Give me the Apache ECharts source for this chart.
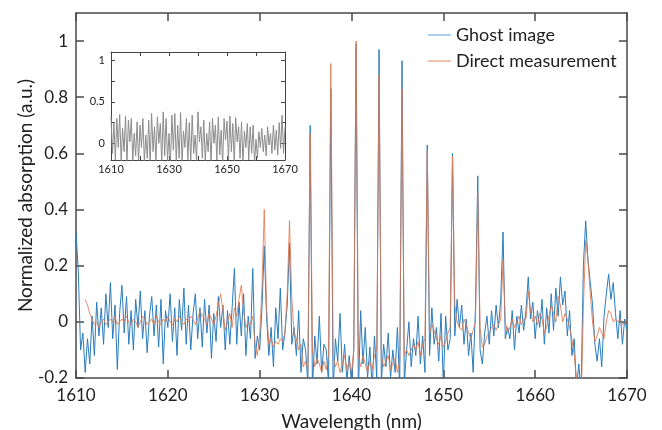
<!DOCTYPE html>
<html>
<head>
<meta charset="utf-8">
<script src="https://cdn.jsdelivr.net/npm/echarts@6/dist/echarts.min.js"></script>
<style>
html,body{margin:0;padding:0;background:#fff;}
#chart{width:662px;height:430px;}
</style>
</head>
<body>
<div id="chart"></div>
<script>
// Wavelength grid (nm) of the main plot
const wavelength = [
1610,1610.25,1610.5,1610.75, 1611,1611.25,1611.5,1611.75, 1612,1612.25,1612.5,1612.75,
1613,1613.25,1613.5,1613.75, 1614,1614.25,1614.5,1614.75, 1615,1615.25,1615.5,1615.75,
1616,1616.25,1616.5,1616.75, 1617,1617.25,1617.5,1617.75, 1618,1618.25,1618.5,1618.75,
1619,1619.25,1619.5,1619.75, 1620,1620.25,1620.5,1620.75, 1621,1621.25,1621.5,1621.75,
1622,1622.25,1622.5,1622.75, 1623,1623.25,1623.5,1623.75, 1624,1624.25,1624.5,1624.75,
1625,1625.25,1625.5,1625.75, 1626,1626.25,1626.5,1626.75, 1627,1627.25,1627.5,1627.75,
1628,1628.25,1628.5,1628.75, 1629,1629.25,1629.5,1629.75, 1630,1630.25,1630.5,1630.75,
1631,1631.25,1631.5,1631.75, 1632,1632.25,1632.5,1632.75, 1633,1633.25,1633.5,1633.75,
1634,1634.25,1634.5,1634.75, 1635,1635.25,1635.5,1635.75, 1636,1636.25,1636.5,1636.75,
1637,1637.25,1637.5,1637.75, 1638,1638.25,1638.5,1638.75, 1639,1639.25,1639.5,1639.75,
1640,1640.25,1640.5,1640.75, 1641,1641.25,1641.5,1641.75, 1642,1642.25,1642.5,1642.75,
1643,1643.25,1643.5,1643.75, 1644,1644.25,1644.5,1644.75, 1645,1645.25,1645.5,1645.75,
1646,1646.25,1646.5,1646.75, 1647,1647.25,1647.5,1647.75, 1648,1648.25,1648.5,1648.75,
1649,1649.25,1649.5,1649.75, 1650,1650.25,1650.5,1650.75, 1651,1651.25,1651.5,1651.75,
1652,1652.25,1652.5,1652.75, 1653,1653.25,1653.5,1653.75, 1654,1654.25,1654.5,1654.75,
1655,1655.25,1655.5,1655.75, 1656,1656.25,1656.5,1656.75, 1657,1657.25,1657.5,1657.75,
1658,1658.25,1658.5,1658.75, 1659,1659.25,1659.5,1659.75, 1660,1660.25,1660.5,1660.75,
1661,1661.25,1661.5,1661.75, 1662,1662.25,1662.5,1662.75, 1663,1663.25,1663.5,1663.75,
1664,1664.25,1664.5,1664.75, 1665,1665.25,1665.5,1665.75, 1666,1666.25,1666.5,1666.75,
1667,1667.25,1667.5,1667.75, 1668,1668.25,1668.5,1668.75, 1669,1669.25,1669.5,1669.75,
1670
];

// Ghost image (blue)
const ghostImage = [
0.32,0.18,-0.10,-0.04, -0.18,-0.06,-0.15,0.02, -0.12,0.07,-0.05,0.05,
-0.08,0.10,-0.02,0.14, -0.06,0.06,-0.17,0.03, 0.13,-0.04,0.09,-0.08,
0.04,-0.10,0.08,-0.02, 0.11,-0.06,0.04,-0.11, 0.02,0.09,-0.05,0.06,
-0.09,0.08,-0.15,0.04, -0.02,0.10,-0.07,0.05, -0.12,0.08,-0.03,0.12,
-0.08,0.06,-0.10,0.03, 0.10,-0.06,0.05,-0.09, 0.08,-0.04,0.06,-0.13,
0.03,-0.07,0.09,-0.02, 0.06,-0.10,0.04,-0.08, 0.05,0.19,-0.08,0.07,
-0.05,0.10,-0.12,0.02, -0.06,0.19,-0.13,-0.05, -0.10,0.05,0.27,0.02,
-0.12,-0.02,-0.16,0.05, -0.06,0.12,-0.10,-0.04, 0.06,0.28,-0.08,-0.02,
-0.12,0.04,-0.18,-0.06, -0.10,-0.22,0.70,-0.24, -0.05,-0.15,0.02,-0.18,
-0.08,-0.10,-0.22,0.83, -0.25,-0.06,-0.14,0.03, -0.18,-0.08,-0.21,-0.12,
-0.22,-0.10,0.99,-0.25, 0.04,-0.15,-0.02,-0.20, -0.09,-0.24,-0.05,-0.20,
0.97,-0.22,-0.08,-0.16, -0.04,-0.20,-0.10,-0.18, -0.02,-0.24,0.93,-0.22,
-0.10,0.00,-0.16,-0.06, -0.12,0.02,-0.15,-0.05, -0.18,0.63,-0.12,0.05,
-0.08,-0.02,-0.14,0.03, -0.22,0.02,-0.10,-0.06, 0.60,-0.05,0.08,-0.02,
0.06,-0.08,0.01,-0.12, -0.04,-0.18,0.05,0.52, -0.10,-0.15,-0.04,0.02,
-0.08,0.04,-0.05,0.06, -0.02,0.08,0.32,-0.06, -0.02,-0.06,0.04,-0.10,
0.02,-0.04,0.06,-0.03, 0.04,0.16,0.01,0.07, -0.06,0.04,-0.02,0.08,
-0.08,0.05,-0.04,0.10, -0.03,0.12,0.02,0.16, 0.06,0.11,-0.05,0.04,
-0.12,-0.06,-0.24,-0.15, -0.25,0.20,0.36,0.22, 0.14,0.06,-0.08,-0.14,
-0.06,-0.16,0.02,0.10, 0.17,0.08,0.14,0.03, -0.06,0.04,-0.08,0.01,
-0.03
];

// Direct measurement (orange)
const directMeasurement = [
null,null,null,null, 0.08,0.06,0.03,0.01, -0.01,0.00,-0.02,0.00,
0.01,-0.01,0.00,0.01, 0.00,0.02,-0.01,0.00, 0.01,0.00,0.02,0.00,
-0.01,0.01,0.00,-0.02, 0.00,0.02,0.01,-0.01, 0.00,0.01,-0.01,0.02,
0.00,-0.01,0.01,0.00, 0.02,0.00,-0.01,0.01, 0.00,0.02,0.00,-0.01,
0.01,0.00,0.02,0.01, -0.01,0.01,0.04,0.02, 0.01,-0.01,0.03,0.01,
-0.01,0.02,0.06,0.10, 0.04,-0.03,0.00,0.03, -0.02,0.05,0.02,0.08,
0.13,0.04,-0.02,0.00, -0.01,0.02,-0.08,-0.12, -0.05,0.12,0.40,0.05,
-0.08,-0.06,-0.09,-0.07, -0.08,-0.06,-0.07,-0.04, 0.10,0.36,0.08,-0.04,
-0.06,-0.10,-0.08,-0.16, -0.14,-0.17,0.67,-0.10, -0.16,-0.13,-0.15,-0.18,
-0.14,-0.17,-0.12,0.92, -0.12,-0.16,-0.14,-0.18, -0.15,-0.12,-0.17,-0.14,
-0.18,-0.10,1.00,-0.12, -0.16,-0.12,-0.15,-0.18, -0.14,-0.17,-0.12,-0.10,
0.88,-0.12,-0.16,-0.14, -0.12,-0.17,-0.15,-0.13, -0.18,-0.14,0.83,-0.12,
-0.10,-0.12,-0.10,-0.08, -0.10,-0.07,-0.12,-0.08, -0.06,0.61,-0.04,-0.01,
-0.03,-0.06,-0.08,-0.05, -0.09,-0.07,-0.04,-0.02, 0.59,0.06,0.00,-0.02,
-0.03,0.01,-0.01,-0.04, -0.06,-0.03,0.00,0.46, -0.02,-0.09,-0.08,-0.05,
-0.04,-0.02,-0.01,-0.03, -0.01,0.01,0.22,0.00, -0.04,-0.02,0.01,-0.02,
0.00,0.02,-0.01,0.01, 0.01,0.11,0.04,0.00, 0.02,-0.01,0.03,0.01,
-0.04,-0.02,0.02,0.06, 0.03,0.00,0.09,0.06, 0.00,0.03,0.01,-0.02,
-0.06,-0.12,-0.20,-0.26, -0.30,0.05,0.29,0.22, 0.10,0.00,-0.07,-0.05,
-0.02,-0.04,-0.06,0.00, 0.04,0.03,0.00,0.01, 0.00,0.01,-0.01,0.00,
0.00
];

// Inset (gray) wavelength grid and values
const insetWavelength = [
1610,1610.5,1611,1611.5,1612,1612.5,1613,1613.5,1614,1614.5,1615,1615.5,
1616,1616.5,1617,1617.5,1618,1618.5,1619,1619.5,1620,1620.5,1621,1621.5,
1622,1622.5,1623,1623.5,1624,1624.5,1625,1625.5,1626,1626.5,1627,1627.5,
1628,1628.5,1629,1629.5,1630,1630.5,1631,1631.5,1632,1632.5,1633,1633.5,
1634,1634.5,1635,1635.5,1636,1636.5,1637,1637.5,1638,1638.5,1639,1639.5,
1640,1640.5,1641,1641.5,1642,1642.5,1643,1643.5,1644,1644.5,1645,1645.5,
1646,1646.5,1647,1647.5,1648,1648.5,1649,1649.5,1650,1650.5,1651,1651.5,
1652,1652.5,1653,1653.5,1654,1654.5,1655,1655.5,1656,1656.5,1657,1657.5,
1658,1658.5,1659,1659.5,1660,1660.5,1661,1661.5,1662,1662.5,1663,1663.5,
1664,1664.5,1665,1665.5,1666,1666.5,1667,1667.5,1668,1668.5,1669,1669.5,
1670
];
const insetValues = [
0.32,-0.12, 0.25,-0.20, 0.30,-0.05, 0.35,-0.22, 0.18,-0.10, 0.33,-0.24,
0.28,0.02, 0.30,-0.22, 0.12,-0.15, 0.26,-0.24, 0.22,-0.05, 0.30,-0.22,
0.10,-0.18, 0.28,-0.25, 0.36,-0.10, 0.20,-0.22, 0.32,0.00, 0.24,-0.24,
0.38,-0.15, 0.30,-0.22, 0.12,-0.25, 0.34,-0.08, 0.36,-0.22, 0.22,-0.18,
0.37,-0.24, 0.15,-0.05, 0.30,-0.20, 0.25,-0.24, 0.34,-0.12, 0.10,-0.22,
0.38,0.02, 0.20,-0.18, 0.28,-0.22, 0.12,-0.10, 0.26,-0.24, 0.30,0.00,
0.22,-0.20, 0.32,-0.14, 0.16,-0.24, 0.30,0.04, 0.27,-0.20, 0.33,-0.10,
0.24,-0.24, 0.31,0.02, 0.20,-0.18, 0.26,-0.22, 0.15,-0.05, 0.24,-0.20,
0.20,-0.12, 0.22,-0.24, 0.05,-0.18, 0.14,-0.05, 0.18,-0.10, 0.10,-0.15,
0.20,-0.02, 0.12,-0.12, 0.22,-0.08, 0.16,-0.14, 0.25,-0.06, 0.34,-0.12,
0.20
];

// Tick values
const mainXTicks = [1610,1620,1630,1640,1650,1660,1670];
const mainYTicks = [-0.2,0,0.2,0.4,0.6,0.8,1];
const insetXTicks = [1610,1620,1630,1640,1650,1660,1670];
const insetXLabels = [1610,1630,1650,1670];
const insetYTicks = [0,0.25,0.5,0.75,1];
const insetYLabels = [0,0.5,1];

const FONT = 'Lato, "Open Sans", sans-serif';
const axisColor = '#4a4a4a';
const textColor = '#222';
const plain = v => String(v);

function pairs(xs, ys){ return xs.map((x,i)=>[x, ys[i]===null ? '-' : ys[i]]); }

const chart = echarts.init(document.getElementById('chart'), null, {renderer:'canvas'});

function mainX(pos, showLabel){
  return {
    gridIndex:0, type:'value', position:pos, min:1610, max:1670, interval:10,
    axisLine:{show:true, onZero:false, lineStyle:{color:axisColor, width:1.5}},
    axisTick:{show:true, inside:true, length:8, customValues:mainXTicks, lineStyle:{color:axisColor, width:1.5}},
    axisLabel:{show:showLabel, customValues:mainXTicks, formatter:plain, fontSize:17, margin:9, color:textColor, fontFamily:FONT},
    splitLine:{show:false},
    name: showLabel ? 'Wavelength (nm)' : '', nameLocation:'middle', nameGap:34, nameMoveOverlap:false,
    nameTextStyle:{fontSize:19, color:textColor, fontFamily:FONT}
  };
}
function mainY(pos, showLabel){
  return {
    gridIndex:0, type:'value', position:pos, min:-0.2, max:1.1,
    axisLine:{show:true, onZero:false, lineStyle:{color:axisColor, width:1.5}},
    axisTick:{show:true, inside:true, length:8, customValues:mainYTicks, lineStyle:{color:axisColor, width:1.5}},
    axisLabel:{show:showLabel, customValues:mainYTicks, formatter:plain, fontSize:17, margin:8, color:textColor, fontFamily:FONT},
    splitLine:{show:false},
    name: showLabel ? 'Normalized absorption (a.u.)' : '', nameLocation:'middle', nameGap:41, nameMoveOverlap:false,
    nameTextStyle:{fontSize:19, color:textColor, fontFamily:FONT}
  };
}
function insetX(pos, showLabel){
  return {
    gridIndex:1, type:'value', position:pos, min:1610, max:1670,
    axisLine:{show:true, onZero:false, lineStyle:{color:'#444', width:1}},
    axisTick:{show:true, inside:true, length:4, customValues:insetXTicks, lineStyle:{color:'#444', width:1}},
    axisLabel:{show:showLabel, customValues:insetXLabels, formatter:plain, fontSize:11, margin:4, color:textColor, fontFamily:FONT},
    splitLine:{show:false}
  };
}
function insetY(pos, showLabel){
  return {
    gridIndex:1, type:'value', position:pos, min:-0.2, max:1.1,
    axisLine:{show:true, onZero:false, lineStyle:{color:'#444', width:1}},
    axisTick:{show:true, inside:true, length:4, customValues:insetYTicks, lineStyle:{color:'#444', width:1}},
    axisLabel:{show:showLabel, customValues:insetYLabels, formatter:plain, fontSize:11, margin:6, color:textColor, fontFamily:FONT},
    splitLine:{show:false}
  };
}

chart.setOption({
  animation:false,
  backgroundColor:'#fff',
  textStyle:{fontFamily:FONT},
  grid:[
    {left:76, top:13, width:551, height:365, outerBoundsMode:'none', containLabel:false},
    {left:111, top:52, width:174, height:108, outerBoundsMode:'none', containLabel:false}
  ],
  xAxis:[mainX('bottom', true), mainX('top', false), insetX('bottom', true), insetX('top', false)],
  yAxis:[mainY('left', true), mainY('right', false), insetY('left', true), insetY('right', false)],
  legend:{
    orient:'vertical', left:423, top:19, itemWidth:23, itemHeight:1.5, itemGap:4,
    textStyle:{fontSize:18, color:textColor, fontFamily:FONT, lineHeight:22},
    data:[
      {name:'Ghost image', icon:'rect', itemStyle:{color:'#8ec3ea'}},
      {name:'Direct measurement', icon:'rect', itemStyle:{color:'#eeae92'}}
    ]
  },
  series:[
    {
      name:'Ghost image', type:'line', xAxisIndex:0, yAxisIndex:0,
      data:pairs(wavelength, ghostImage), symbol:'none', clip:true,
      lineStyle:{color:'#2a7cbc', width:1}, itemStyle:{color:'#2a7cbc'}
    },
    {
      name:'Direct measurement', type:'line', xAxisIndex:0, yAxisIndex:0,
      data:pairs(wavelength, directMeasurement), symbol:'none', clip:true,
      lineStyle:{color:'#e0794f', width:1, opacity:0.85}, itemStyle:{color:'#e0794f'}
    },
    {
      name:'inset', type:'line', xAxisIndex:2, yAxisIndex:2,
      data:pairs(insetWavelength, insetValues), symbol:'none', clip:true,
      lineStyle:{color:'#8c8c8c', width:1}
    }
  ]
});
</script>
</body>
</html>
